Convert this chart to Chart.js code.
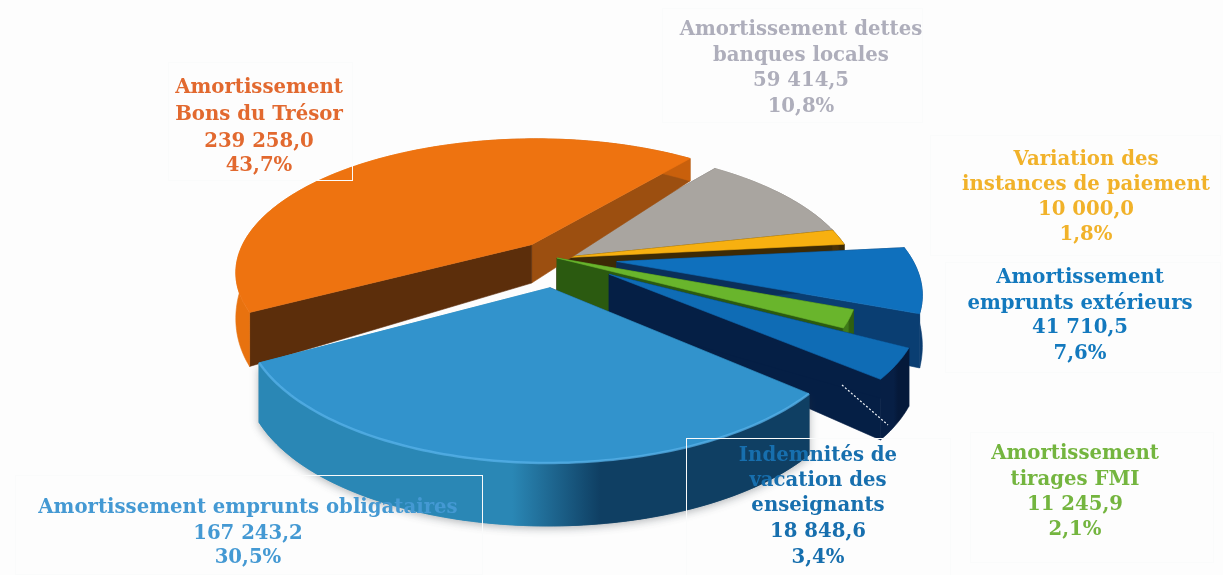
<!DOCTYPE html>
<html lang="fr">
<head>
<meta charset="utf-8">
<title>Répartition du service de la dette</title>
<script src="https://cdn.jsdelivr.net/npm/chart.js@4"></script>
<style>
html,body{margin:0;padding:0;background:#fdfdfd;}
canvas{display:block;}
</style>
</head>
<body>
<canvas id="pie" width="1223" height="575"></canvas>
<script>
// Data
const categories = [
  "Amortissement Bons du Trésor",
  "Amortissement dettes banques locales",
  "Variation des instances de paiement",
  "Amortissement emprunts extérieurs",
  "Amortissement tirages FMI",
  "Indemnités de vacation des enseignants",
  "Amortissement emprunts obligataires"
];
const values = [239258.0, 59414.5, 10000.0, 41710.5, 11245.9, 18848.6, 167243.2];
const shares = [43.7, 10.8, 1.8, 7.6, 2.1, 3.4, 30.5];
const labelLines = [
  ["Amortissement", "Bons du Trésor"],
  ["Amortissement dettes", "banques locales"],
  ["Variation des", "instances de paiement"],
  ["Amortissement", "emprunts extérieurs"],
  ["Amortissement", "tirages FMI"],
  ["Indemnités de", "vacation des", "enseignants"],
  ["Amortissement emprunts obligataires"]
];

// Slice separation, in pixels along each slice's mid-angle
const explode = [40, 0, 0, 60, 0, 62, 64];
// Radius of each slice relative to the pie radius
const radiusScale = [1, 1, 1, 1, 1, 1, 0.97];

// Slice colours
const topColors = ["#ee7310", "#a9a5a0", "#f7b010", "#0f70bd", "#69b52c", "#0f6cb5", "#3293cc"];
const rimColors = [
  ["#e8720f", "#c9600c"], ["#8a8680", "#77736e"], ["#4a3206", "#3d2a05"], ["#0c4f8c", "#0a3c70"],
  ["#3e7a18", "#2f5f10"], ["#071f45", "#05193a"], ["#2a87b5", "#0f3f63"]
];
const startWallColors = ["#5c2e0b", "#6b6864", "#3d2a05", "#0a2f5a", "#2b5a10", "#051f45", "#0f3f63"];
const endWallColors = ["#9c4f10", "#6b6864", "#3d2a05", "#0a3e72", "#2b5a10", "#051f45", "#2a87b5"];
const edgeHighlights = [null, null, null, null, null, null, "rgba(90,180,235,0.7)"];
const textColors = ["#e2692f", "#aeaebb", "#f1b22a", "#1379be", "#74b53f", "#176fae", "#4499d3"];

// Painter's order, far slices first
const drawOrder = [1, 2, 0, 3, 4, 5, 6];

// Text block anchors: centre x, and centre y of each line
const labelX = [259, 801, 1086, 1080, 1075, 818, 248];
const labelY = [
  [88, 115, 142, 166], [30, 56, 81, 107], [160, 185, 210, 235], [278, 304, 328, 354],
  [454, 480, 505, 530], [456, 481, 506, 532, 558], [508, 534, 558]
];
const labelBoxes = [
  [168, 62, 184, 118], [662, 8, 260, 114], [930, 135, 290, 120], [945, 262, 275, 110],
  [970, 432, 243, 130], [686, 438, 264, 140], [15, 475, 467, 99]
];

// Camera used to lay the pie on its side
const view = { cx: 557, cy: 258, squash: 0.447, perspective: 0.2 };

function wallDepth(n) {
  return 42 + 22 * Math.tanh(1.6 * n);
}

function formatValue(v) {
  const [whole, dec] = v.toFixed(1).split(".");
  return whole.replace(/\B(?=(\d{3})+$)/g, " ") + "," + dec;
}

function formatShare(s) {
  return s.toFixed(1).replace(".", ",") + "%";
}

const pie3d = {
  id: "pie3d",
  beforeDatasetDraw(chart, args) {
    const ctx = chart.ctx;
    const arcs = chart.getDatasetMeta(args.index).data;
    drawOrder.forEach(i => drawSlice(ctx, arcs[i], i));
    return false;
  },
  afterDraw(chart) {
    drawLabels(chart.ctx);
  }
};

function drawSlice(ctx, arc, i) {
  const R = arc.outerRadius;
  const r = R * radiusScale[i];
  const mid = (arc.startAngle + arc.endAngle) / 2;
  const off = arc.options.offset;
  const ox = Math.cos(mid) * off;
  const oy = Math.sin(mid) * off;

  const top = (px, py) => {
    const w = 1 / (1 - view.perspective * py / R);
    return [view.cx + px * w, view.cy + view.squash * py * w];
  };
  const low = (px, py) => {
    const p = top(px, py);
    return [p[0], p[1] + wallDepth(py / R)];
  };

  const steps = Math.max(2, Math.ceil((arc.endAngle - arc.startAngle) / 0.02));
  const rimTop = [];
  const rimLow = [];
  for (let s = 0; s <= steps; s++) {
    const a = arc.startAngle + (arc.endAngle - arc.startAngle) * s / steps;
    const px = ox + Math.cos(a) * r;
    const py = oy + Math.sin(a) * r;
    rimTop.push(top(px, py));
    rimLow.push(low(px, py));
  }
  const apexTop = top(ox, oy);
  const apexLow = low(ox, oy);

  const tracePoly = pts => {
    ctx.beginPath();
    pts.forEach((p, k) => (k ? ctx.lineTo(p[0], p[1]) : ctx.moveTo(p[0], p[1])));
  };
  const fillPoly = (pts, fill) => {
    tracePoly(pts);
    ctx.closePath();
    ctx.fillStyle = fill;
    ctx.strokeStyle = fill;
    ctx.lineWidth = 0.6;
    ctx.fill();
    ctx.stroke();
  };

  // Cut faces
  fillPoly([apexTop, rimTop[steps], rimLow[steps], apexLow], endWallColors[i]);
  fillPoly([apexTop, rimTop[0], rimLow[0], apexLow], startWallColors[i]);

  // Curved outer wall
  const xs = rimTop.map(p => p[0]);
  const grad = ctx.createLinearGradient(Math.min(...xs), 0, Math.max(...xs), 0);
  grad.addColorStop(0, rimColors[i][0]);
  grad.addColorStop(0.46, rimColors[i][0]);
  grad.addColorStop(0.62, rimColors[i][1]);
  grad.addColorStop(1, rimColors[i][1]);
  if (edgeHighlights[i]) {
    ctx.save();
    ctx.shadowColor = "rgba(40,50,60,0.35)";
    ctx.shadowBlur = 9;
    ctx.shadowOffsetY = 2;
    fillPoly(rimTop.concat(rimLow.slice().reverse()), grad);
    ctx.restore();
  }
  fillPoly(rimTop.concat(rimLow.slice().reverse()), grad);

  // Top face
  fillPoly([apexTop].concat(rimTop), topColors[i]);

  // Bevel along the outer edge of the top face
  if (edgeHighlights[i]) {
    ctx.save();
    tracePoly(rimTop);
    ctx.strokeStyle = edgeHighlights[i];
    ctx.lineWidth = 2.5;
    ctx.stroke();
    ctx.restore();
  }
}

function drawLabels(ctx) {
  ctx.save();
  // Label frames: barely visible on paper, white over the pie
  labelBoxes.forEach(b => {
    ctx.strokeStyle = "#fafbfb";
    ctx.lineWidth = 1;
    ctx.strokeRect(b[0] + 0.5, b[1] + 0.5, b[2], b[3]);
  });

  // Leader from the FMI slice
  ctx.strokeStyle = "#f2f6fa";
  ctx.lineWidth = 1.2;
  ctx.setLineDash([2, 2]);
  ctx.beginPath();
  ctx.moveTo(842, 385);
  ctx.lineTo(888, 425);
  ctx.stroke();
  ctx.setLineDash([]);

  ctx.font = "bold 19.7px 'DejaVu Serif'";
  ctx.textAlign = "center";
  ctx.textBaseline = "middle";
  categories.forEach((name, i) => {
    const lines = labelLines[i].concat([formatValue(values[i]), formatShare(shares[i])]);
    ctx.fillStyle = textColors[i];
    lines.forEach((t, k) => ctx.fillText(t, labelX[i], labelY[i][k]));
  });
  ctx.restore();
}

new Chart(document.getElementById("pie"), {
  type: "pie",
  data: {
    labels: categories,
    datasets: [{
      data: values,
      backgroundColor: topColors,
      offset: explode,
      borderWidth: 0
    }]
  },
  options: {
    responsive: false,
    animation: false,
    rotation: 241,
    radius: 295,
    events: [],
    plugins: { legend: { display: false }, tooltip: { enabled: false } }
  },
  plugins: [pie3d]
});
</script>
</body>
</html>
